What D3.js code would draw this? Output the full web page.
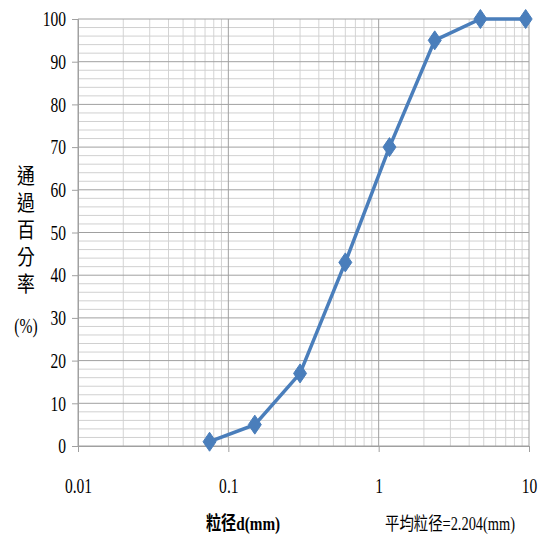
<!DOCTYPE html>
<html><head><meta charset="utf-8">
<script src="https://cdn.jsdelivr.net/npm/d3@7/dist/d3.min.js"></script>
<style>body{margin:0;background:#fff}</style>
</head><body>
<script>
const sizes = [0.075, 0.15, 0.3, 0.6, 1.18, 2.36, 4.75, 9.5];
const passing = [1, 5, 17, 43, 70, 95, 100, 100];
const xTicks = [0.01, 0.1, 1, 10];
const xTickLabels = ["0.01", "0.1", "1", "10"];
const yTicks = [0, 10, 20, 30, 40, 50, 60, 70, 80, 90, 100];
const yTitle = "通過百分率";
const yUnit = "(%)";
const xTitle = "粒径d(mm)";
const noteText = "平均粒径=2.204(mm)";

const W = 544, H = 536;
const SX = 0.74, FS = 21;
const svg = d3.select("body").append("svg").attr("width", W).attr("height", H);
const x = d3.scaleLog().domain([0.01, 10]).range([78, 529]);
const y = d3.scaleLinear().domain([0, 100]).range([446, 19]);

// minor vertical grid
const minorX = [];
for (let d = 0.01; d < 10; d *= 10) for (let k = 2; k <= 9; k++) minorX.push(d * k);
svg.append("g").selectAll("line").data(minorX).join("line")
  .attr("x1", d => x(d)).attr("x2", d => x(d)).attr("y1", y(0)).attr("y2", y(100))
  .attr("stroke", "#d4d4d4").attr("stroke-width", 1);
// minor horizontal grid
const minorY = d3.range(0, 101, 2).filter(v => v % 10 !== 0);
svg.append("g").selectAll("line").data(minorY).join("line")
  .attr("x1", x(0.01)).attr("x2", x(10)).attr("y1", d => y(d)).attr("y2", d => y(d))
  .attr("stroke", "#d0d0d0").attr("stroke-width", 1);
// major grid
svg.append("g").selectAll("line").data(xTicks).join("line")
  .attr("x1", d => x(d)).attr("x2", d => x(d)).attr("y1", y(0)).attr("y2", y(100))
  .attr("stroke", "#a0a0a0").attr("stroke-width", 1);
svg.append("g").selectAll("line").data(yTicks).join("line")
  .attr("x1", x(0.01)).attr("x2", x(10)).attr("y1", d => y(d)).attr("y2", d => y(d))
  .attr("stroke", "#a0a0a0").attr("stroke-width", 1);

// axes
const yAxis = svg.append("g").attr("transform", `translate(${x(0.01)},0)`)
  .call(d3.axisLeft(y).tickValues(yTicks).tickSize(6).tickPadding(6));
const xAxis = svg.append("g").attr("transform", `translate(0,${y(0)})`)
  .call(d3.axisBottom(x).tickValues(xTicks).tickFormat((d, i) => xTickLabels[i]).tickSize(6).tickPadding(26));
[yAxis, xAxis].forEach(g => {
  g.select(".domain").attr("stroke", "#a0a0a0");
  g.selectAll(".tick line").attr("stroke", "#a0a0a0");
  g.selectAll("text").attr("font-family", "Liberation Serif").attr("font-size", FS).attr("fill", "#000");
});
yAxis.selectAll(".tick text").attr("transform", `scale(${SX},1)`).attr("x", -12 / SX);
xAxis.selectAll(".tick text").attr("transform", `scale(${SX},1)`);

// line
const pts = sizes.map((s, i) => [s, passing[i]]);
svg.append("path").datum(pts)
  .attr("d", d3.line().x(d => x(d[0])).y(d => y(d[1])))
  .attr("fill", "none").attr("stroke", "#4a7ebb").attr("stroke-width", 3.5);
svg.append("g").selectAll("path").data(pts).join("path")
  .attr("transform", d => `translate(${x(d[0])},${y(d[1])})`)
  .attr("d", "M0,-9.5L6.5,0L0,9.5L-6.5,0Z")
  .attr("fill", "#4a7ebb").attr("stroke", "#4a7ebb").attr("stroke-width", 1);

// y label (vertical)
svg.append("text")
  .attr("transform", "translate(26,165) scale(0.85,1)")
  .attr("x", 0).attr("y", 0)
  .style("writing-mode", "vertical-rl")
  .attr("font-family", "Noto Sans CJK TC")
  .attr("font-size", 21).attr("letter-spacing", 5.8).attr("fill", "#000")
  .text(yTitle);
svg.append("text").attr("x", 0).attr("y", 0).attr("text-anchor", "middle")
  .attr("font-family", "Liberation Serif").attr("font-size", FS).attr("fill", "#000")
  .attr("transform", `translate(26,333) scale(${SX},1)`)
  .text(yUnit);

// x title
svg.append("text").attr("x", 0).attr("y", 0).attr("text-anchor", "middle")
  .attr("font-family", "Liberation Serif, Noto Sans CJK TC").attr("font-weight", "bold")
  .attr("font-size", 19).attr("fill", "#000")
  .attr("transform", "translate(243,530) scale(0.8,1)").text(xTitle);
svg.append("text").attr("x", 0).attr("y", 0).attr("text-anchor", "middle")
  .attr("font-family", "Liberation Serif, Noto Sans CJK TC")
  .attr("font-size", 18).attr("fill", "#000")
  .attr("transform", "translate(450,530) scale(0.8,1)").text(noteText);
</script>
</body></html>
